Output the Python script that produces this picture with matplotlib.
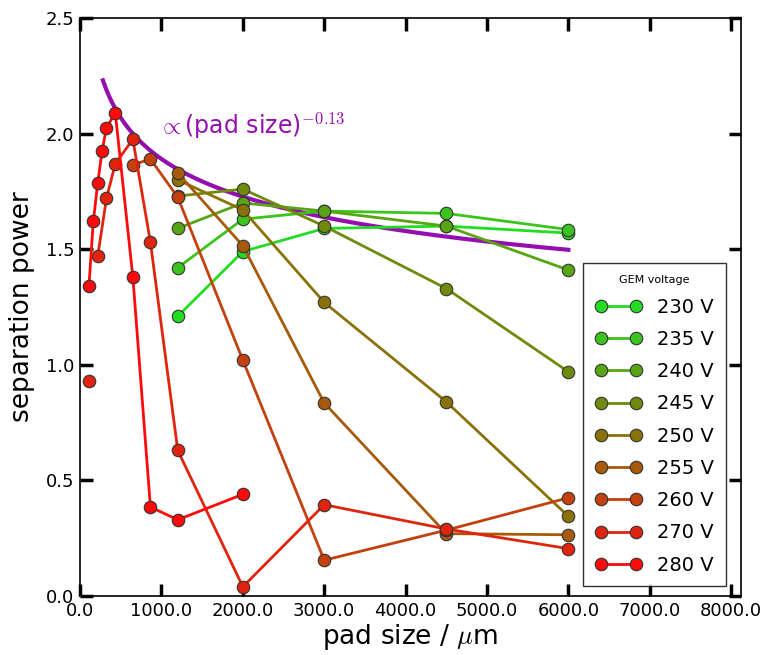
import matplotlib
matplotlib.use("Agg")
import matplotlib.pyplot as plt
import numpy as np

plt.rcParams['font.family'] = ['DejaVu Sans']
plt.rcParams['mathtext.fontset'] = 'cm'

# GEM voltage series: pad size (um) and separation power
labels = ['230 V', '235 V', '240 V', '245 V', '250 V', '255 V', '260 V', '270 V', '280 V']
colors = ['#22dd22', '#3cc41e', '#58a514', '#6f8a0c', '#8a720a', '#a65a0a', '#c4400e', '#e0240e', '#ff0a0a']

x_230 = [1200, 2000, 3000, 4500, 6000]
y_230 = [1.21, 1.49, 1.59, 1.60, 1.57]
x_235 = [1200, 2000, 3000, 4500, 6000]
y_235 = [1.42, 1.63, 1.665, 1.655, 1.585]
x_240 = [1200, 2000, 3000, 4500, 6000]
y_240 = [1.59, 1.70, 1.665, 1.60, 1.41]
x_245 = [1200, 2000, 3000, 4500, 6000]
y_245 = [1.73, 1.76, 1.60, 1.33, 0.97]
x_250 = [1200, 2000, 3000, 4500, 6000]
y_250 = [1.80, 1.67, 1.27, 0.84, 0.345]
x_255 = [1200, 2000, 3000, 4500, 6000]
y_255 = [1.83, 1.515, 0.835, 0.27, 0.265]
x_260 = [648, 864, 1200, 2000, 3000, 4500, 6000]
y_260 = [1.865, 1.89, 1.725, 1.02, 0.155, 0.285, 0.425]
# 162 um missing for 270 V -> line is broken there
x_270 = [108, 162, 216, 324, 432, 648, 864, 1200, 2000, 3000, 4500, 6000]
y_270 = [0.93, np.nan, 1.47, 1.72, 1.87, 1.975, 1.53, 0.63, 0.04, 0.395, 0.29, 0.205]
x_280 = [108, 162, 216, 270, 324, 432, 648, 864, 1200, 2000]
y_280 = [1.34, 1.62, 1.785, 1.925, 2.025, 2.09, 1.38, 0.385, 0.33, 0.44]

xs = [x_230, x_235, x_240, x_245, x_250, x_255, x_260, x_270, x_280]
ys = [y_230, y_235, y_240, y_245, y_250, y_255, y_260, y_270, y_280]

# power-law guide
fit_norm = 4.64
fit_exp = -0.13
fit_range = (280, 6000)

fig = plt.figure(figsize=(7.63, 6.55), dpi=100)
ax = fig.add_axes([0.105, 0.09, 0.866, 0.8825])

xf = np.linspace(fit_range[0], fit_range[1], 300)
ax.plot(xf, fit_norm * xf ** fit_exp, color='#950fb0', lw=3, zorder=2)

for x, y, c, lab in zip(xs, ys, colors, labels):
    ax.plot(x, y, '-o', color=c, lw=2, ms=9, mfc=c, mec='#333333',
            mew=0.8, label=lab, zorder=3)

ax.text(960, 2.035, r'$\propto$(pad size)$^{-0.13}$', color='#950fb0',
        fontsize=17, va='center', ha='left')

ax.set_xlim(0, 8120)
ax.set_ylim(0, 2.5)
ax.set_xticks(np.arange(0, 8001, 1000))
ax.set_yticks(np.arange(0, 2.51, 0.5))
ax.set_xticklabels(['%.1f' % v for v in np.arange(0, 8001, 1000)])
ax.set_yticklabels(['%.1f' % v for v in np.arange(0, 2.51, 0.5)])
ax.tick_params(direction='in', length=9, width=2.5, labelsize=13,
               top=True, right=True, pad=4)
ax.set_xlabel(r'pad size / $\mu$m', fontsize=19, labelpad=2)
ax.set_ylabel('separation power', fontsize=19, labelpad=8)
for s in ax.spines.values():
    s.set_linewidth(1.2)

leg = ax.legend(loc='lower right', title='GEM voltage', fontsize=14,
                title_fontsize=8, numpoints=2, frameon=True, fancybox=False,
                edgecolor='black', borderpad=0.6, labelspacing=0.68,
                handlelength=2.4, borderaxespad=0,
                bbox_to_anchor=(0.977, 0.017))
leg.get_frame().set_linewidth(1.0)

fig.savefig('out.png', dpi=100)
